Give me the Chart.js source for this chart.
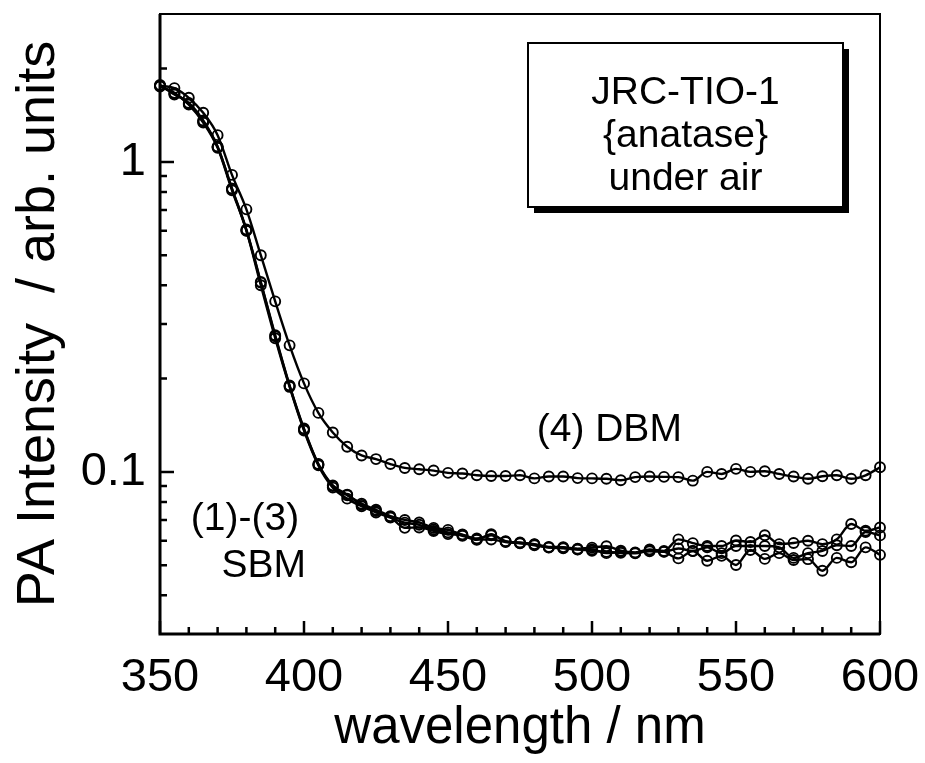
<!DOCTYPE html>
<html>
<head>
<meta charset="utf-8">
<script src="https://cdn.jsdelivr.net/npm/chart.js@4/dist/chart.umd.min.js"></script>
<style>
html,body{margin:0;padding:0;background:#fff;}
#wrap{width:925px;height:763px;}
</style>
</head>
<body>
<div id="wrap"><canvas id="c" width="925" height="763"></canvas></div>
<script>
// ---- data ----
const wavelengths = [350,355,360,365,370,375,380,385,390,395,400,405,410,415,420,425,430,435,440,445,450,455,460,465,470,475,480,485,490,495,500,505,510,515,520,525,530,535,540,545,550,555,560,565,570,575,580,585,590,595,600];

const dbm = [1.76,1.73,1.61,1.44,1.22,0.908,0.703,0.50,0.355,0.256,0.193,0.155,0.134,0.1206,0.113,0.110,0.106,0.103,0.102,0.101,0.0993,0.0988,0.0975,0.097,0.097,0.0975,0.0953,0.0967,0.0967,0.0955,0.0953,0.0950,0.0940,0.0962,0.0966,0.0964,0.0962,0.0937,0.100,0.0985,0.1023,0.100,0.1005,0.0985,0.0966,0.095,0.0968,0.0975,0.095,0.0975,0.1035];

const sbm1 = [1.76,1.66,1.54,1.35,1.12,0.819,0.601,0.408,0.274,0.1895,0.137,0.1057,0.090,0.0841,0.0790,0.0755,0.0720,0.0700,0.0687,0.0660,0.0650,0.0628,0.0610,0.0625,0.0598,0.0590,0.0585,0.0573,0.0572,0.0565,0.0570,0.0576,0.0557,0.0550,0.0562,0.0556,0.0606,0.0589,0.0577,0.0577,0.0601,0.0594,0.0625,0.0585,0.0590,0.0600,0.0585,0.0606,0.0679,0.0646,0.0662];

const sbm2 = [1.75,1.67,1.53,1.34,1.11,0.81,0.60,0.40,0.27,0.188,0.136,0.105,0.089,0.082,0.0775,0.074,0.0712,0.0686,0.0675,0.0652,0.0638,0.0622,0.0606,0.0605,0.0594,0.0588,0.0580,0.0570,0.0567,0.0562,0.0562,0.0547,0.0552,0.0548,0.0555,0.0552,0.0566,0.0556,0.0571,0.0547,0.0577,0.0577,0.0577,0.0571,0.0528,0.0547,0.0556,0.0580,0.0577,0.0640,0.0624];

const sbm3 = [1.77,1.65,1.55,1.36,1.12,0.82,0.605,0.41,0.276,0.19,0.138,0.106,0.0905,0.0845,0.0783,0.0748,0.0715,0.0660,0.0662,0.0645,0.0630,0.0626,0.0604,0.0630,0.0596,0.0592,0.0583,0.0571,0.0569,0.0563,0.0557,0.0552,0.0548,0.0546,0.0558,0.0553,0.0526,0.0556,0.0517,0.0536,0.0501,0.0560,0.0524,0.0547,0.0520,0.0523,0.0480,0.0528,0.0511,0.0571,0.0540];

const xMajorTicks = [350,400,450,500,550,600];
const xMinorTicks = [360,370,380,390,410,420,430,440,460,470,480,490,510,520,530,540,560,570,580,590];
const yMajorTicks = [0.1,1];
const yMinorTicks = [0.04,0.05,0.06,0.07,0.08,0.09,0.2,0.3,0.4,0.5,0.6,0.7,0.8,0.9,2];

const xTitle = 'wavelength / nm';
const yTitle = 'PA Intensity  / arb. units';
const boxLines = ['JRC-TIO-1','{anatase}','under air'];
const labelDBM = {text:'(4) DBM', x:506, y:0.136};
const labelSBM1 = {text:'(1)-(3)', x:379.5, y:0.0705};
const labelSBM2 = {text:'SBM', x:386, y:0.0495};

const FONT = '"Liberation Sans", Arial, Helvetica, sans-serif';

function ds(data){
  return {
    data: wavelengths.map((w,i)=>({x:w,y:data[i]})),
    borderColor:'#000',
    borderWidth:2.4,
    pointRadius:5,
    pointBorderWidth:1.9,
    pointBorderColor:'#000',
    pointBackgroundColor:'rgba(0,0,0,0)',
    cubicInterpolationMode:'monotone',
    clip:false
  };
}

const decor = {
  id:'decor',
  afterDraw(chart){
    const ctx = chart.ctx;
    const a = chart.chartArea;
    const xs = chart.scales.x, ys = chart.scales.y;
    ctx.save();
    ctx.strokeStyle = '#000';
    ctx.lineCap = 'butt';
    // frame
    ctx.lineWidth = 2;
    ctx.strokeRect(a.left, a.top, a.right-a.left, a.bottom-a.top);
    ctx.lineWidth = 3;
    ctx.beginPath();
    ctx.moveTo(a.left, a.top); ctx.lineTo(a.left, a.bottom); ctx.lineTo(a.right, a.bottom);
    ctx.stroke();
    // ticks
    ctx.lineWidth = 2.5;
    ctx.beginPath();
    xMajorTicks.forEach(v=>{const p=xs.getPixelForValue(v); ctx.moveTo(p,a.bottom); ctx.lineTo(p,a.bottom-13);});
    xMinorTicks.forEach(v=>{const p=xs.getPixelForValue(v); ctx.moveTo(p,a.bottom); ctx.lineTo(p,a.bottom-7);});
    yMajorTicks.forEach(v=>{const p=ys.getPixelForValue(v); ctx.moveTo(a.left,p); ctx.lineTo(a.left+14,p);});
    yMinorTicks.forEach(v=>{const p=ys.getPixelForValue(v); ctx.moveTo(a.left,p); ctx.lineTo(a.left+7,p);});
    ctx.stroke();
    // annotations
    ctx.fillStyle = '#000';
    ctx.font = '39px ' + FONT;
    ctx.textAlign = 'center';
    ctx.textBaseline = 'middle';
    [labelDBM,labelSBM1,labelSBM2].forEach(l=>{
      ctx.fillText(l.text, xs.getPixelForValue(l.x), ys.getPixelForValue(l.y));
    });
    // box with shadow
    const bx = 528, by = 43, bw = 315, bh = 164, sh = 6;
    ctx.fillStyle = '#000';
    ctx.fillRect(bx+sh, by+sh, bw, bh);
    ctx.fillStyle = '#fff';
    ctx.fillRect(bx, by, bw, bh);
    ctx.lineWidth = 2;
    ctx.strokeRect(bx, by, bw, bh);
    ctx.fillStyle = '#000';
    ctx.font = '39px ' + FONT;
    ctx.textBaseline = 'alphabetic';
    boxLines.forEach((t,i)=>{ ctx.fillText(t, bx+bw/2, by+61+i*43); });
    ctx.restore();
  }
};

new Chart(document.getElementById('c'), {
  type:'line',
  data:{ datasets:[ds(sbm1),ds(sbm2),ds(sbm3),ds(dbm)] },
  options:{
    responsive:false,
    animation:false,
    layout:{padding:{left:0,right:45,top:14,bottom:0}},
    plugins:{legend:{display:false},tooltip:{enabled:false}},
    scales:{
      x:{
        type:'linear', min:350, max:600,
        afterBuildTicks(s){ s.ticks = xMajorTicks.map(v=>({value:v})); },
        afterFit(s){ s.height = 129; s.paddingLeft = 0; s.paddingRight = 0; },
        grid:{display:false, drawTicks:false},
        border:{display:false},
        ticks:{color:'#000', padding:16, font:{family:FONT,size:47}, maxRotation:0, autoSkip:false, callback:v=>String(v)},
        title:{display:true, text:xTitle, color:'#000', font:{family:FONT,size:51}, padding:{top:0,bottom:3}}
      },
      y:{
        type:'logarithmic', min:0.03, max:3,
        afterBuildTicks(s){ s.ticks = yMajorTicks.map(v=>({value:v})); },
        afterFit(s){ s.width = 160; s.paddingTop = 0; s.paddingBottom = 0; },
        grid:{display:false, drawTicks:false},
        border:{display:false},
        ticks:{color:'#000', padding:14, font:{family:FONT,size:47}, autoSkip:false, callback:v=>String(v)},
        title:{display:true, text:yTitle, color:'#000', font:{family:FONT,size:54}, padding:{top:7,bottom:0}}
      }
    }
  },
  plugins:[decor]
});
</script>
</body>
</html>
